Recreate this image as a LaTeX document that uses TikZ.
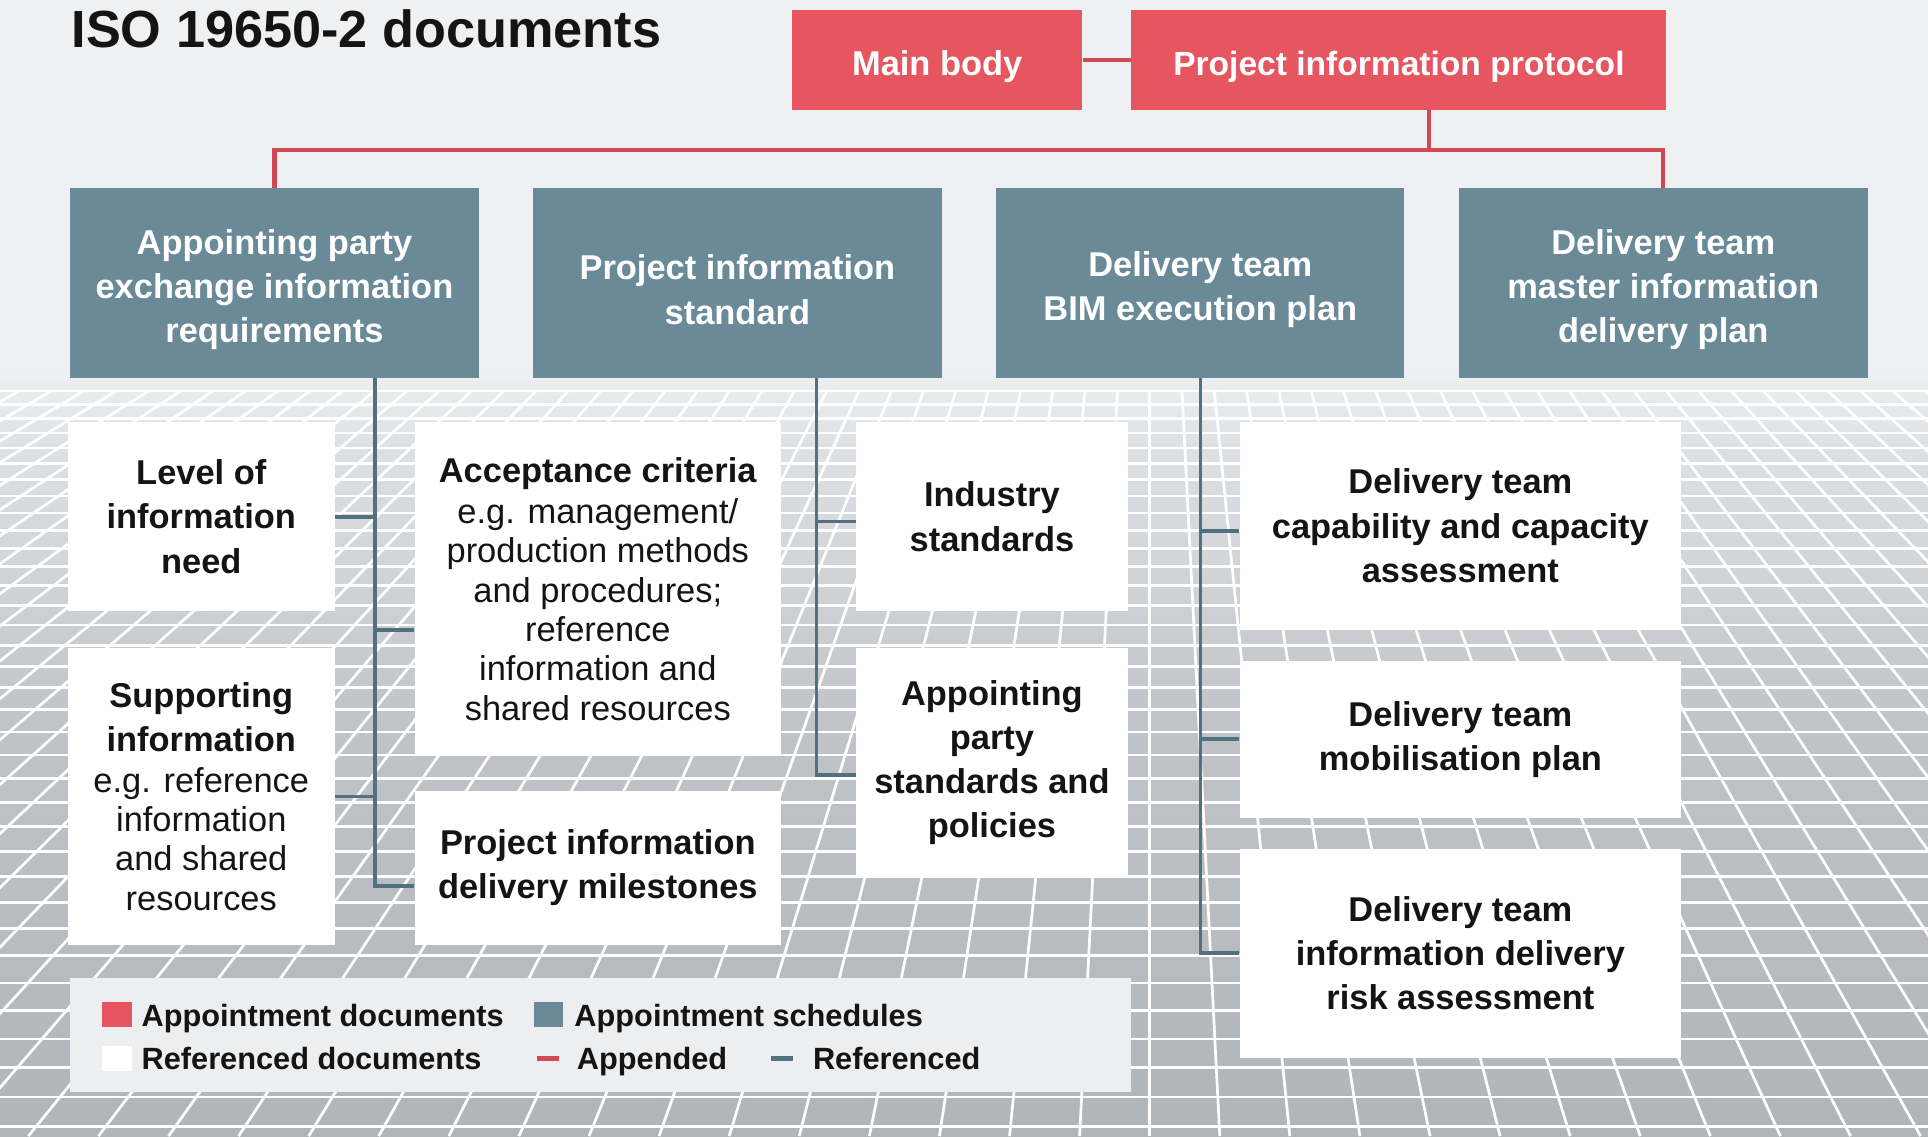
\documentclass[tikz,border=0pt]{standalone}
\usepackage{fontspec}
\setmainfont{Liberation Sans}
\definecolor{apred}{RGB}{229,86,96}
\definecolor{redln}{RGB}{208,72,82}
\definecolor{slate}{RGB}{106,138,152}
\definecolor{slateln}{RGB}{82,112,127}
\definecolor{bgtop}{RGB}{238,240,241}
\definecolor{gridtop}{RGB}{222,225,228}
\definecolor{gridmid}{RGB}{192,196,200}
\definecolor{gridbot}{RGB}{176,181,186}
\definecolor{legbg}{RGB}{236,238,240}
\definecolor{ink}{RGB}{20,20,20}
\newcommand\lowstrut{\rule{0pt}{31pt}}
\pgfdeclareverticalshading{floor}{100bp}{color(0bp)=(gridbot); color(25bp)=(gridbot); color(52bp)=(gridmid); color(70bp)=(gridtop); color(75bp)=(bgtop); color(100bp)=(bgtop)}
\begin{document}
\begin{tikzpicture}[x=1pt,y=-1pt,
  box/.style={inner sep=0pt, align=center, anchor=north west},
  hfont/.style={font=\bfseries\fontsize{28}{36}\selectfont},
  mfont/.style={font=\fontsize{28}{32}\selectfont},
  apptbox/.style={box, fill=apred, text=white, hfont},
  schbox/.style={box, fill=slate, text=white, hfont},
  refbox/.style={box, fill=white, text=ink, hfont},
  appline/.style={draw=redln, line width=3.5pt},
  refline/.style={draw=slateln, line width=3pt},
  gridln/.style={draw=white, line width=2.2pt},
  legtext/.style={anchor=base west, inner sep=0pt, text=ink, font=\bfseries\fontsize{25}{30}\selectfont},
  legsq/.style={inner sep=0pt, minimum width=24pt, minimum height=20pt},
  legdash/.style={inner sep=0pt, minimum width=18pt, minimum height=4.5pt}
]
\useasboundingbox (0,0) rectangle (1568,924);
% background
\fill[bgtop] (0,0) rectangle (1568,924);
\begin{scope}
  \clip (0,300) rectangle (1568,924);
  \shade[shading=floor] (0,300) rectangle (1568,924);
  \foreach \n in {0,...,36} {
    \pgfmathsetmacro\yy{318+11*\n+0.2*\n*(\n-1)}
    \draw[gridln] (0,\yy) -- (1568,\yy);
  }
  \foreach \k in {-40,...,25} {
    \draw[gridln] ({935+26.27*\k},318) -- ({935+57*\k},924);
  }
\end{scope}

% title
\node[anchor=base west, inner sep=0pt, text=ink, font=\bfseries\fontsize{42.5}{42.5}\selectfont] (title) at (58,39) {ISO 19650-2 documents};

% appointment documents
\node[apptbox, minimum width=236pt, minimum height=81pt] (mb) at (644,8) {\lowstrut Main body};
\node[apptbox, minimum width=435pt, minimum height=81pt, font=\bfseries\fontsize{27.3}{36}\selectfont] (pip) at (920,8) {\lowstrut Project information protocol};

% appointment schedules
\node[schbox, minimum width=332pt, minimum height=154pt] (b1) at (57,153) {\lowstrut Appointing party\\exchange information\\requirements};
\node[schbox, minimum width=333pt, minimum height=154pt] (b2) at (433,153) {\lowstrut Project information\\standard};
\node[schbox, minimum width=332pt, minimum height=154pt] (b3) at (810,153) {\lowstrut Delivery team\\BIM execution plan};
\node[schbox, minimum width=333pt, minimum height=154pt] (b4) at (1186,153) {\lowstrut Delivery team\\master information\\delivery plan};

% referenced documents
\node[refbox, minimum width=217pt, minimum height=154pt] (lvl) at (55,343) {Level of\\information\\need};
\node[refbox, mfont, minimum width=217pt, minimum height=241pt] (sup) at (55,527) {\textbf{Supporting}\\[4pt]\textbf{information}\\[1pt]e.g. reference\\information\\and shared\\resources};
\node[refbox, mfont, minimum width=298pt, minimum height=272pt] (acc) at (337,343) {\textbf{Acceptance criteria}\\[1pt]e.g. management/\\production methods\\and procedures;\\reference\\information and\\shared resources};
\node[refbox, minimum width=298pt, minimum height=125pt] (ms) at (337,643) {Project information\\delivery milestones};
\node[refbox, minimum width=221pt, minimum height=154pt] (ind) at (696,343) {Industry\\standards};
\node[refbox, minimum width=221pt, minimum height=186pt] (aps) at (696,527) {Appointing\\party\\standards and\\policies};
\node[refbox, minimum width=359pt, minimum height=169pt] (cap) at (1008,343) {Delivery team\\capability and capacity\\assessment};
\node[refbox, minimum width=359pt, minimum height=128pt] (mob) at (1008,537) {Delivery team\\mobilisation plan};
\node[refbox, minimum width=359pt, minimum height=170pt] (risk) at (1008,690) {Delivery team\\information delivery\\risk assessment};

% appended connectors
\coordinate (j) at (1162,122);
\draw[appline] (mb.east) -- (pip.west);
\draw[appline] (pip.south -| j) -- (j);
\draw[appline] (b1.north) |- (j) -| (b4.north);

% referenced connectors
\coordinate (k1) at (305,0);
\coordinate (k2) at (664,0);
\draw[refline] (b1.south -| k1) |- ([yshift=-15pt]ms.west);
\draw[refline] (lvl.east) -- (lvl.east -| k1);
\draw[refline] ([yshift=-33pt]acc.west) -- ([yshift=-33pt]acc.west -| k1);
\draw[refline] (sup.east) -- (sup.east -| k1);
\draw[refline] (b2.south -| k2) |- ([yshift=-10pt]aps.west);
\draw[refline] ([yshift=-4pt]ind.west) -- ([yshift=-4pt]ind.west -| k2);
\draw[refline] (b3.south) |- (risk.west);
\draw[refline] ([yshift=-4pt]cap.west) -- ([yshift=-4pt]cap.west -| b3.south);
\draw[refline] (mob.west) -- (mob.west -| b3.south);

% legend
\node[box, fill=legbg, minimum width=863pt, minimum height=93pt] (leg) at (57,795) {};
\node[legsq, fill=apred] (lq1) at (95,825) {};
\node[legtext] (lt1) at (115,835) {Appointment documents};
\node[legsq, fill=slate] (lq2) at (446,825) {};
\node[legtext] (lt2) at (467,835) {Appointment schedules};
\node[legsq, fill=white] (lq3) at (95,861) {};
\node[legtext] (lt3) at (115,870) {Referenced documents};
\node[legdash, fill=redln] (ld1) at (446,861) {};
\node[legtext] (lt4) at (469,870) {Appended};
\node[legdash, fill=slateln] (ld2) at (636,861) {};
\node[legtext] (lt5) at (661,870) {Referenced};
\end{tikzpicture}
\end{document}
